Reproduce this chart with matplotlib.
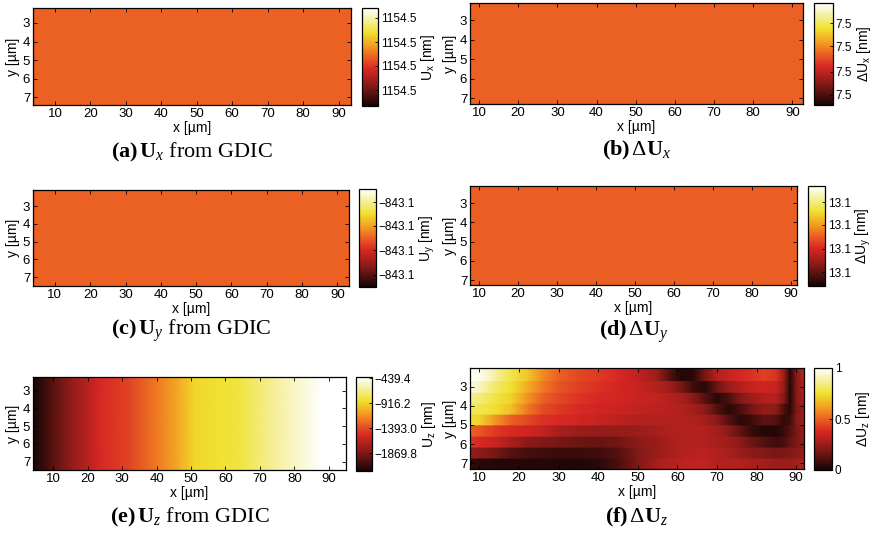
import numpy as np
import matplotlib.pyplot as plt
from matplotlib.colors import LinearSegmentedColormap

plt.rcParams['font.family'] = ['Liberation Sans', 'DejaVu Sans']
plt.rcParams['mathtext.fontset'] = 'custom'
plt.rcParams['mathtext.rm'] = 'Liberation Serif'
plt.rcParams['mathtext.it'] = 'Liberation Serif:italic'
plt.rcParams['mathtext.bf'] = 'Liberation Serif:bold'
plt.rcParams['mathtext.sf'] = 'Liberation Sans'

# ---------------- data ----------------
# (a) U_x from GDIC : uniform field
ux_value = 1154.5
ux_lim = (1154.4996, 1154.5004)
ux_ticks = [1154.49973, 1154.49993, 1154.50012, 1154.50032]
ux_tick_labels = ['1154.5', '1154.5', '1154.5', '1154.5']

# (b) delta U_x
dux_value = 7.5
dux_lim = (7.4996, 7.5004)
dux_ticks = [7.49968, 7.49986, 7.50006, 7.50024]
dux_tick_labels = ['7.5', '7.5', '7.5', '7.5']

# (c) U_y from GDIC
uy_value = -843.1
uy_lim = (-843.1004, -843.0996)
uy_ticks = [-843.1003, -843.1001, -843.0999, -843.09971]
uy_tick_labels = ['\u2212843.1', '\u2212843.1', '\u2212843.1', '\u2212843.1']

# (d) delta U_y
duy_value = 13.1
duy_lim = (13.0996, 13.1004)
duy_ticks = [13.09971, 13.0999, 13.10009, 13.10027]
duy_tick_labels = ['13.1', '13.1', '13.1', '13.1']

# (e) U_z from GDIC : varies along x only
uz_x = [4.1, 13, 23, 32, 40, 46, 51, 58, 64, 74, 83, 88, 95]
uz_vals = [-2210, -1870, -1548, -1422, -1225, -1082, -903, -867, -832, -653, -510, -425, -420]
uz_lim = (-2210, -420)
uz_ticks = [-1869.8, -1393.0, -916.2, -439.4]
uz_tick_labels = ['\u22121869.8', '\u22121393.0', '\u2212916.2', '\u2212439.4']

# (f) delta U_z : horizontal bands (rows) x smooth columns
duz_x = [7.6, 10, 14, 18, 22, 26, 30, 35, 40, 45, 50, 55, 58, 61, 64, 67, 70, 73,
         76, 79, 82, 85, 87, 88.5, 90, 92.3]
duz_row_edges = [2.04, 2.74, 3.35, 3.92, 4.49, 5.05, 5.64, 6.21, 6.78, 7.3]
duz_vals = [
    [1.0, 0.98, 0.88, 0.78, 0.7, 0.58, 0.5, 0.45, 0.42, 0.38, 0.33, 0.25, 0.12, 0.03, 0.04, 0.18, 0.3, 0.34, 0.37, 0.4, 0.43, 0.4, 0.25, 0.03, 0.2, 0.35],
    [0.96, 0.92, 0.82, 0.75, 0.65, 0.55, 0.48, 0.43, 0.4, 0.37, 0.34, 0.3, 0.26, 0.18, 0.08, 0.04, 0.16, 0.25, 0.3, 0.34, 0.36, 0.34, 0.24, 0.03, 0.2, 0.32],
    [0.86, 0.84, 0.77, 0.72, 0.6, 0.5, 0.45, 0.41, 0.38, 0.36, 0.35, 0.33, 0.31, 0.28, 0.22, 0.12, 0.04, 0.1, 0.2, 0.26, 0.3, 0.3, 0.2, 0.03, 0.2, 0.3],
    [0.8, 0.79, 0.75, 0.68, 0.55, 0.46, 0.42, 0.38, 0.36, 0.35, 0.33, 0.32, 0.31, 0.3, 0.27, 0.22, 0.12, 0.04, 0.1, 0.18, 0.24, 0.22, 0.1, 0.04, 0.18, 0.28],
    [0.74, 0.72, 0.6, 0.5, 0.45, 0.4, 0.38, 0.36, 0.34, 0.32, 0.3, 0.3, 0.3, 0.3, 0.29, 0.27, 0.22, 0.12, 0.04, 0.08, 0.14, 0.12, 0.05, 0.08, 0.2, 0.28],
    [0.5, 0.48, 0.42, 0.38, 0.36, 0.33, 0.28, 0.25, 0.24, 0.24, 0.25, 0.28, 0.29, 0.3, 0.3, 0.3, 0.27, 0.22, 0.14, 0.06, 0.03, 0.03, 0.07, 0.12, 0.18, 0.25],
    [0.4, 0.38, 0.35, 0.28, 0.22, 0.2, 0.18, 0.16, 0.15, 0.17, 0.22, 0.25, 0.28, 0.3, 0.3, 0.3, 0.28, 0.26, 0.22, 0.16, 0.11, 0.08, 0.1, 0.15, 0.18, 0.25],
    [0.24, 0.22, 0.18, 0.12, 0.09, 0.08, 0.07, 0.07, 0.08, 0.12, 0.2, 0.25, 0.28, 0.3, 0.31, 0.32, 0.3, 0.28, 0.25, 0.22, 0.2, 0.18, 0.19, 0.2, 0.22, 0.25],
    [0.05, 0.04, 0.03, 0.03, 0.03, 0.03, 0.03, 0.02, 0.04, 0.1, 0.2, 0.28, 0.3, 0.32, 0.33, 0.33, 0.3, 0.3, 0.3, 0.28, 0.27, 0.25, 0.25, 0.25, 0.27, 0.3],
]
duz_lim = (0, 1)
duz_ticks = [0, 0.5, 1]
duz_tick_labels = ['0', '0.5', '1']

# captions
captions = [
    r"$\mathbf{(a)}\,\mathbf{U}_{x}$ from GDIC",
    r"$\mathbf{(b)}\,\mathit{\Delta}\mathbf{U}_{x}$",
    r"$\mathbf{(c)}\,\mathbf{U}_{y}$ from GDIC",
    r"$\mathbf{(d)}\,\mathit{\Delta}\mathbf{U}_{y}$",
    r"$\mathbf{(e)}\,\mathbf{U}_{z}$ from GDIC",
    r"$\mathbf{(f)}\,\mathit{\Delta}\mathbf{U}_{z}$",
]
cbar_labels = [
    r"$\mathsf{U_x}$ [nm]", r"$\mathsf{\Delta U_x}$ [nm]",
    r"$\mathsf{U_y}$ [nm]", r"$\mathsf{\Delta U_y}$ [nm]",
    r"$\mathsf{U_z}$ [nm]", r"$\mathsf{\Delta U_z}$ [nm]",
]

# hot-like colormap as it appears in the figure
hot_nodes = [
    (0.0, (20, 5, 5)),
    (0.19, (125, 25, 22)),
    (0.375, (215, 38, 35)),
    (0.5, (235, 95, 35)),
    (0.6, (243, 150, 32)),
    (0.75, (240, 225, 45)),
    (0.88, (245, 240, 160)),
    (1.0, (255, 255, 255)),
]
cmap = LinearSegmentedColormap.from_list(
    'hot_pdf', [(f, tuple(c / 255 for c in rgb)) for f, rgb in hot_nodes])

W, H = 882, 536
fig = plt.figure(figsize=(W / 100, H / 100), dpi=100)


def px_box(l, t, r, b):
    return [l / W, 1 - b / H, (r - l) / W, (b - t) / H]


# (axes box, cbar box, xlim, ylim, caption y) in pixels
layout = [
    ((33, 8, 351, 105), (362, 8, 378, 106), (3.8, 93.5), (7.43, 2.19), 152),
    ((470, 3, 803, 104), (814, 3, 833, 105), (7.7, 92.7), (7.29, 2.13), 150),
    ((33, 190, 349, 286), (359, 189, 376, 287), (3.8, 93.3), (7.49, 2.1), 331),
    ((470, 186, 797, 285), (808, 186, 825, 286), (7.7, 91.5), (7.26, 2.1), 332),
    ((33, 377, 346, 470), (356, 377, 372, 471), (4.1, 95.0), (7.47, 2.23), 517),
    ((470, 368, 804, 469), (814, 368, 832, 470), (7.6, 92.0), (7.3, 2.03), 517),
]

uniform = [
    (ux_value, ux_lim, ux_ticks, ux_tick_labels),
    (dux_value, dux_lim, dux_ticks, dux_tick_labels),
    (uy_value, uy_lim, uy_ticks, uy_tick_labels),
    (duy_value, duy_lim, duy_ticks, duy_tick_labels),
]

for i, (abox, cbox, xlim, ylim, cap_y) in enumerate(layout):
    ax = fig.add_axes(px_box(*abox))
    cax = fig.add_axes(px_box(*cbox))
    if i < 4:
        val, lim, ticks, tlabels = uniform[i]
        m = ax.pcolormesh([xlim[0], xlim[1]], [ylim[1], ylim[0]], [[val]],
                          cmap=cmap, vmin=lim[0], vmax=lim[1])
    elif i == 4:
        lim, ticks, tlabels = uz_lim, uz_ticks, uz_tick_labels
        X, Y = np.meshgrid(uz_x, [ylim[1], ylim[0]])
        Z = np.array([uz_vals, uz_vals])
        m = ax.pcolormesh(X, Y, Z, shading='gouraud', cmap=cmap,
                          vmin=lim[0], vmax=lim[1])
    else:
        lim, ticks, tlabels = duz_lim, duz_ticks, duz_tick_labels
        for r, row in enumerate(duz_vals):
            X, Y = np.meshgrid(duz_x, duz_row_edges[r:r + 2])
            m = ax.pcolormesh(X, Y, np.array([row, row]), shading='gouraud',
                              cmap=cmap, vmin=lim[0], vmax=lim[1])

    ax.set_xlim(*xlim)
    ax.set_ylim(*ylim)
    ax.set_xticks([10, 20, 30, 40, 50, 60, 70, 80, 90])
    ax.set_yticks([3, 4, 5, 6, 7])
    ax.tick_params(direction='in', top=True, right=True, length=3, width=0.6,
                   labelsize=9.5, pad=2)
    for s in ax.spines.values():
        s.set_linewidth(0.9)
    ax.set_xlabel('x [\u00b5m]', fontsize=10, labelpad=1)
    ax.set_ylabel('y [\u00b5m]', fontsize=10, labelpad=2)

    cb = fig.colorbar(m, cax=cax)
    cb.set_ticks(ticks)
    cb.set_ticklabels(tlabels)
    cb.outline.set_linewidth(0.9)
    cax.tick_params(direction='in', length=2.5, width=0.6, labelsize=8.5, pad=2)
    cb.set_label(cbar_labels[i], fontsize=10, labelpad=2)

    cx = (abox[0] + abox[2]) / 2
    fig.text(cx / W, 1 - cap_y / H, captions[i], ha='center', va='center',
             fontsize=16, family='Liberation Serif')

fig.savefig('out.png', dpi=100)
